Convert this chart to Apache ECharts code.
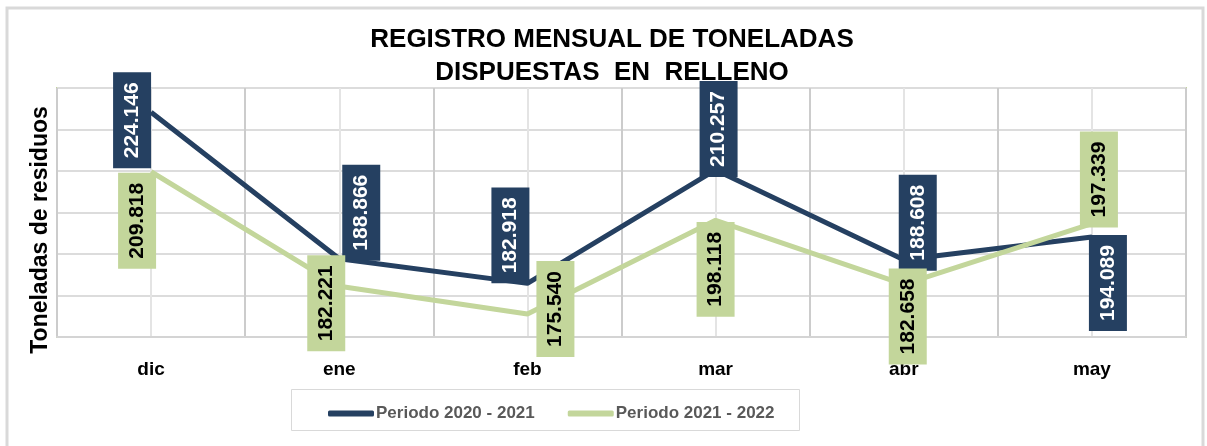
<html lang="es">
<head>
  <meta charset="utf-8">
  <title>Registro mensual de toneladas</title>
  <script src="https://cdn.jsdelivr.net/npm/echarts@6/dist/echarts.min.js"></script>
</head>
<body style="margin:0;background:#fff;">
  <div id="main" style="width:1207px;height:446px;"></div>
<script>
  // datos
  var meses = ['dic', 'ene', 'feb', 'mar', 'abr', 'may'];
  var periodo1 = [224.146, 188.866, 182.918, 210.257, 188.608, 194.089];
  var periodo2 = [209.818, 182.221, 175.540, 198.118, 182.658, 197.339];
  var series_nombres = ['Periodo 2020 - 2021', 'Periodo 2021 - 2022'];

  // desplazamiento de las etiquetas en pantalla (x, y)
  var despl1 = [[-19, 8], [22, -46], [-17, -48], [3, -41], [14, -37], [16, 46]];
  var despl2 = [[-14, 49], [-13, 17], [28, -5], [0, 49], [4, 32], [7, -44]];

  var azul = '#254061';
  var verde = '#C3D69B';
  var fuente = 'Liberation Sans, Arial, sans-serif';

  function puntos(vals, despl) {
    return vals.map(function (v, i) {
      // la etiqueta esta rotada 90 grados, el offset gira con ella
      return { value: v, label: { offset: [-despl[i][1], despl[i][0]] } };
    });
  }

  function etiqueta(fondo, texto) {
    return {
      show: true,
      position: 'inside',
      rotate: 90,
      backgroundColor: fondo,
      color: texto,
      fontFamily: fuente,
      fontWeight: 'bold',
      fontSize: 21,
      lineHeight: 20,
      padding: [9, 10],
      formatter: function (p) { return p.value.toFixed(3); }
    };
  }

  var myChart = echarts.init(document.getElementById('main'));
  myChart.setOption({
    backgroundColor: '#fff',
    animation: false,
    graphic: [
      {
        type: 'rect',
        shape: { x: 7, y: 8, width: 1196, height: 450 },
        style: { fill: 'none', stroke: '#d9d9d9', lineWidth: 3 },
        silent: true
      },
      {
        // titulo
        type: 'text',
        x: 612,
        y: 23,
        style: {
          text: 'REGISTRO MENSUAL DE TONELADAS\nDISPUESTAS  EN  RELLENO',
          fontFamily: fuente,
          fontWeight: 'bold',
          fontSize: 26,
          lineHeight: 33,
          fill: '#000',
          textAlign: 'center',
          textVerticalAlign: 'top'
        },
        silent: true
      },
      {
        type: 'rect',
        shape: { x: 291.5, y: 389.5, width: 508, height: 41 },
        style: { fill: 'none', stroke: '#d9d9d9', lineWidth: 1 },
        silent: true
      },
      {
        type: 'text',
        x: 41,
        y: 230,
        rotation: Math.PI / 2,
        style: {
          text: 'Toneladas de residuos',
          fontFamily: fuente,
          fontWeight: 'bold',
          fontSize: 23,
          fill: '#000',
          textAlign: 'center',
          textVerticalAlign: 'middle'
        },
        silent: true
      }
    ],
    legend: {
      data: [
        { name: series_nombres[0], icon: 'roundRect' },
        { name: series_nombres[1], icon: 'roundRect' }
      ],
      left: 323,
      top: 400,
      itemWidth: 46,
      itemHeight: 6,
      itemGap: 33,
      textStyle: {
        fontFamily: fuente,
        fontWeight: 'bold',
        fontSize: 17,
        color: '#595959',
        padding: [0, 0, 0, -3]
      }
    },
    grid: {
      left: 57,
      right: 21,
      top: 88,
      bottom: 109,
      show: true,
      borderColor: verde,
      borderWidth: 2
    },
    xAxis: [
      {
        type: 'category',
        data: meses,
        boundaryGap: true,
        axisLine: { show: true, lineStyle: { color: '#d4d4d4', width: 2 } },
        axisTick: { show: false },
        splitLine: { show: false },
        axisLabel: {
          margin: 23,
          fontFamily: fuente,
          fontWeight: 'bold',
          fontSize: 19,
          color: '#000'
        }
      },
      {
        // solo para las lineas verticales (limites y centros)
        type: 'value',
        min: 0,
        max: 12,
        interval: 1,
        position: 'bottom',
        axisLine: { show: false },
        axisTick: { show: false },
        axisLabel: { show: false },
        splitLine: { show: true, lineStyle: { color: ['#cccccc', '#e4e4e4'], width: 2 } }
      }
    ],
    yAxis: {
      type: 'value',
      min: 170,
      max: 230,
      interval: 10,
      axisLine: { show: false },
      axisTick: { show: false },
      axisLabel: { show: false },
      splitLine: { lineStyle: { color: '#dcdcdc', width: 2 } }
    },
    series: [
      {
        name: series_nombres[0],
        type: 'line',
        xAxisIndex: 0,
        data: puntos(periodo1, despl1),
        symbol: 'circle',
        symbolSize: 1,
        itemStyle: { color: azul },
        lineStyle: { color: azul, width: 5 },
        label: etiqueta(azul, '#fff'),
        z: 3
      },
      {
        name: series_nombres[1],
        type: 'line',
        xAxisIndex: 0,
        data: puntos(periodo2, despl2),
        symbol: 'circle',
        symbolSize: 1,
        itemStyle: { color: verde },
        lineStyle: { color: verde, width: 5 },
        label: etiqueta(verde, '#000'),
        z: 4
      }
    ]
  });
</script>
</body>
</html>
